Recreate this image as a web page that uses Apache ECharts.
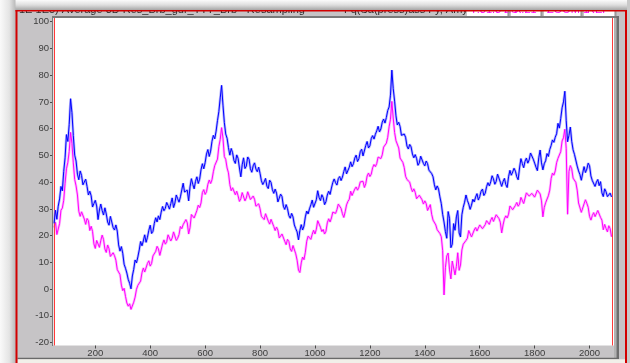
<!DOCTYPE html>
<html>
<head>
<meta charset="utf-8">
<script src="https://cdn.jsdelivr.net/npm/echarts@6/dist/echarts.min.js"></script>
<style>
  html, body { margin: 0; padding: 0; background: #ffffff; }
  #chart { width: 630px; height: 363px; }
</style>
</head>
<body>
<div id="chart"></div>
<script>
// Two traces sampled every 5 units starting at x = 50
const sampleStart = 50;
const sampleStep = 5;

const blueValues = [
  24.6, 29.5, 26.1, 31.0, 33.7, 38.4, 36.7, 44.0, 49.1, 57.8, 55.2, 61.5, 71.2, 66.0, 57.4, 50.1, 47.9, 43.0, 40.9, 44.2,
  42.5, 39.0, 38.5, 41.1, 38.4, 35.2, 36.6, 34.9, 30.7, 32.0, 33.2, 31.1, 26.0, 29.6, 31.8, 29.4, 27.7, 30.4, 28.1, 25.1,
  23.9, 27.2, 26.6, 23.0, 22.1, 24.0, 21.7, 16.5, 14.2, 15.9, 13.4, 9.3, 7.8, 6.0, 3.6, 2.2, 0.1, 4.9, 7.4, 10.9,
  9.8, 12.0, 14.6, 17.8, 16.2, 18.0, 20.3, 17.5, 19.4, 22.0, 23.9, 20.8, 21.6, 24.6, 26.7, 25.1, 27.4, 26.0, 28.8, 30.9,
  29.3, 30.2, 32.4, 31.3, 29.9, 32.0, 34.1, 30.5, 32.2, 35.2, 33.8, 32.5, 34.5, 37.1, 39.6, 36.3, 35.7, 37.0, 33.0, 38.2,
  41.3, 39.2, 37.5, 40.3, 42.0, 39.5, 41.1, 44.6, 46.9, 45.0, 47.3, 50.5, 52.2, 49.6, 51.6, 55.3, 57.5, 56.2, 59.1, 63.0,
  66.4, 71.5, 76.2, 68.8, 62.3, 58.0, 56.4, 52.9, 50.1, 52.6, 51.0, 48.1, 47.0, 50.2, 48.9, 45.3, 42.0, 46.5, 49.1, 45.1,
  46.0, 49.4, 48.6, 45.0, 43.7, 46.1, 47.2, 44.9, 43.9, 45.6, 43.3, 40.5, 39.1, 40.1, 41.4, 38.5, 37.6, 40.7, 39.9, 37.2,
  35.8, 37.4, 35.9, 32.6, 33.2, 35.5, 34.6, 31.0, 29.8, 31.6, 30.1, 27.5, 26.5, 28.3, 27.0, 24.0, 22.6, 21.4, 18.4, 21.9,
  24.1, 22.1, 23.6, 27.0, 29.2, 28.1, 30.0, 31.5, 33.3, 30.6, 29.9, 33.4, 36.8, 34.3, 33.1, 35.3, 34.2, 31.6, 32.7, 35.2,
  36.6, 35.4, 37.8, 39.9, 41.2, 39.8, 38.9, 41.3, 42.1, 40.6, 41.9, 44.0, 45.7, 43.1, 42.5, 45.6, 47.6, 45.8, 46.9, 49.0,
  50.1, 47.7, 48.8, 51.4, 52.3, 49.8, 50.4, 53.7, 55.2, 52.8, 53.6, 56.3, 57.4, 56.1, 57.9, 59.2, 60.9, 58.8, 59.9, 62.4,
  63.6, 62.1, 64.2, 66.8, 68.1, 72.5, 81.9, 75.0, 70.3, 64.8, 61.4, 62.4, 60.8, 57.5, 56.9, 58.0, 56.8, 53.5, 52.4, 54.1,
  53.2, 50.5, 49.1, 50.3, 48.9, 46.3, 47.2, 49.7, 49.0, 47.0, 46.1, 47.9, 46.9, 44.5, 43.9, 43.2, 42.0, 39.0, 37.1, 38.6,
  37.4, 34.5, 32.0, 28.0, 25.1, 21.5, 19.0, 29.0, 26.5, 15.5, 16.8, 24.5, 22.0, 27.0, 29.4, 21.0, 19.5, 27.8, 30.6, 32.5,
  35.2, 33.2, 31.8, 29.8, 31.4, 33.6, 32.6, 34.4, 35.7, 33.3, 34.6, 36.6, 37.4, 35.0, 35.9, 38.3, 39.8, 38.6, 40.1, 42.4,
  41.2, 39.2, 40.3, 43.0, 42.6, 40.0, 38.4, 40.2, 41.4, 39.1, 38.0, 42.0, 44.4, 42.6, 43.8, 45.2, 44.1, 42.0, 40.9, 45.3,
  48.8, 47.0, 45.4, 47.8, 49.0, 47.1, 48.3, 50.9, 50.2, 48.6, 47.1, 45.6, 44.3, 49.1, 52.0, 47.2, 44.6, 46.9, 48.0, 50.7,
  49.6, 52.2, 53.7, 55.8, 54.9, 56.8, 58.1, 62.0, 60.2, 63.8, 67.8, 70.0, 74.0, 63.0, 55.1, 57.5, 60.6, 55.3, 52.1, 50.4,
  49.8, 46.0, 44.2, 42.8, 40.7, 43.4, 45.8, 43.6, 44.9, 47.1, 46.1, 42.3, 40.6, 39.9, 38.4, 40.0, 41.0, 38.7, 40.2, 36.0,
  34.6, 37.5, 36.4, 34.6, 33.9, 35.9, 34.5
];

const pinkValues = [
  23.1, 25.0, 20.4, 19.8, 24.5, 29.5, 30.3, 33.2, 39.6, 45.0, 47.4, 51.5, 58.6, 54.5, 47.2, 41.0, 38.6, 35.2, 29.1, 27.2,
  28.9, 29.6, 26.2, 24.2, 26.4, 25.6, 21.9, 23.5, 21.6, 16.9, 15.2, 18.2, 17.5, 15.6, 18.1, 20.2, 18.6, 15.0, 13.7, 16.5,
  15.1, 12.2, 11.6, 13.6, 12.5, 10.8, 7.3, 8.0, 5.4, 1.5, -0.6, 0.3, -2.7, -5.2, -6.4, -5.5, -7.6, -8.0, -4.9, -3.0,
  -0.1, 1.4, 1.1, 3.0, 6.1, 7.9, 6.4, 7.0, 9.6, 10.6, 8.6, 9.6, 12.4, 12.0, 14.1, 16.0, 15.0, 12.6, 13.1, 16.9,
  18.4, 16.8, 17.7, 20.3, 19.9, 18.0, 19.1, 21.4, 21.0, 18.2, 19.0, 20.4, 23.4, 22.6, 24.1, 23.5, 26.0, 24.8, 20.6, 23.0,
  27.9, 28.6, 26.6, 26.9, 29.4, 31.4, 30.5, 32.2, 36.1, 37.2, 35.4, 36.4, 39.2, 40.8, 39.5, 40.9, 43.9, 46.2, 45.6, 48.6,
  53.3, 56.0, 60.4, 56.5, 49.6, 48.5, 45.3, 43.5, 39.1, 36.8, 37.9, 37.6, 35.3, 36.6, 34.9, 32.8, 33.8, 36.1, 35.9, 33.0,
  34.1, 36.4, 35.8, 33.5, 32.8, 34.8, 33.6, 31.0, 30.7, 31.9, 30.1, 27.2, 26.6, 26.0, 28.2, 27.8, 25.4, 24.3, 26.1, 25.9,
  23.4, 21.9, 23.2, 22.0, 19.1, 18.4, 20.6, 20.0, 17.9, 16.6, 18.6, 17.8, 15.0, 14.1, 16.3, 15.6, 13.2, 10.8, 7.1, 6.2,
  9.8, 12.0, 11.0, 13.8, 17.9, 19.8, 19.3, 18.6, 20.5, 22.0, 20.6, 22.4, 25.6, 25.2, 23.1, 21.5, 22.3, 20.6, 21.6, 24.8,
  26.3, 25.1, 26.6, 28.8, 29.5, 28.3, 29.7, 31.8, 31.5, 30.2, 28.2, 26.8, 28.9, 31.5, 32.8, 33.6, 36.6, 35.0, 35.5, 37.4,
  38.2, 37.0, 38.1, 40.1, 40.8, 40.3, 38.0, 39.4, 42.3, 43.4, 42.1, 43.0, 45.4, 46.6, 45.8, 47.0, 49.4, 49.9, 48.8, 50.2,
  53.1, 53.0, 54.6, 56.8, 60.7, 63.5, 70.2, 64.0, 58.6, 55.5, 54.8, 52.8, 49.0, 49.2, 47.4, 45.5, 42.2, 41.0, 40.6, 40.0,
  37.9, 36.4, 37.5, 36.2, 33.8, 33.4, 35.1, 35.0, 33.4, 31.8, 33.0, 32.0, 29.4, 29.6, 31.6, 28.0, 25.8, 25.5, 24.0, 22.2,
  21.5, 20.8, 19.6, 14.5, -2.2, 8.0, 12.4, 13.5, 7.2, 3.8, 10.5, 11.0, 5.3, 8.5, 13.6, 7.0, 9.0, 14.6, 16.8, 16.2,
  18.2, 19.0, 21.9, 21.6, 19.5, 20.0, 22.1, 23.0, 21.7, 22.0, 24.0, 24.6, 22.6, 22.0, 24.1, 25.6, 25.4, 24.2, 25.8, 26.8,
  25.3, 26.0, 27.8, 28.2, 26.4, 25.0, 21.0, 24.0, 26.3, 27.4, 26.6, 28.0, 31.1, 31.2, 29.7, 29.5, 31.3, 32.4, 31.0, 31.8,
  34.3, 34.5, 32.0, 32.6, 36.0, 36.6, 34.8, 34.2, 35.8, 36.4, 34.4, 35.0, 37.0, 37.6, 35.6, 33.0, 27.0, 30.5, 32.3, 32.0,
  34.9, 37.0, 41.3, 43.4, 42.6, 44.2, 47.3, 48.9, 49.5, 51.4, 55.4, 56.6, 59.8, 52.5, 28.0, 44.0, 46.2, 45.0, 41.5, 41.9,
  39.9, 37.0, 32.2, 31.5, 28.7, 28.8, 31.9, 33.4, 32.1, 30.6, 27.2, 25.8, 27.5, 28.6, 27.1, 27.0, 29.4, 28.8, 26.8, 25.8,
  22.2, 24.2, 22.7, 21.4, 23.7, 22.6, 19.6
];

const xTicks = [200, 400, 600, 800, 1000, 1200, 1400, 1600, 1800, 2000];
const yTicks = [-20, -10, 0, 10, 20, 30, 40, 50, 60, 70, 80, 90, 100];
const cursorPositions = [50, 2083];

const titleLeft = '1E 1E5) Average 3D Res_Brb_gdr_TTT_Brb - Resampling';
const titleRight = 'Fq(Sa(press)ass Fy, Amy)';
const statusFields = ['Y:31.3 ZS', 'X:21', 'ZOOM 1', 'REP'];

function toPairs(values) {
  return values.map((v, i) => [sampleStart + i * sampleStep, v]);
}

const chart = echarts.init(document.getElementById('chart'), null, { renderer: 'canvas' });

const panelGray = '#c6c4c6';
const darkEdge = '#7a7a7a';
const frameRed = '#d20000';
const labelFont = 'Liberation Sans';

// status fields in the title row
const statusGraphics = [];
const statusX = [467, 511, 544, 584];
const statusW = [40, 29, 36, 30];
statusFields.forEach((t, i) => {
  statusGraphics.push({
    type: 'rect', z: 40,
    shape: { x: statusX[i], y: 9, width: statusW[i], height: 7 },
    style: { fill: '#ffffff' }
  });
  statusGraphics.push({
    type: 'text', z: 41,
    style: {
      x: statusX[i] + 3, y: 10, text: t, fill: '#ff00ff',
      font: '11px "Liberation Sans"', verticalAlign: 'middle', align: 'left'
    }
  });
  statusGraphics.push({
    type: 'rect', z: 41,
    shape: { x: statusX[i] + statusW[i] + 1, y: 10, width: 1.5, height: 6 },
    style: { fill: '#9a9a9a' }
  });
});

// each trace: a soft halo underneath a crisp core line
function trace(name, values, core, halo, z) {
  return [
    {
      name: name + '-halo', type: 'line', data: toPairs(values),
      showSymbol: false, symbol: 'none', z: z, silent: true,
      lineStyle: { color: halo, width: 2.6 }
    },
    {
      name: name, type: 'line', data: toPairs(values),
      showSymbol: false, symbol: 'none', z: z + 1,
      lineStyle: { color: core, width: 1 }
    }
  ];
}

const series = [
  ...trace('pink', pinkValues, '#ff00ff', 'rgba(255,120,255,0.5)', 3),
  ...trace('blue', blueValues, '#0000ff', 'rgba(110,110,255,0.5)', 5)
];
series[3].markLine = {
  silent: true, symbol: 'none', animation: false,
  label: { show: false },
  lineStyle: { color: '#ff3a3a', width: 1, type: 'solid' },
  data: cursorPositions.map(v => ({ xAxis: v }))
};

chart.setOption({
  animation: false,
  backgroundColor: panelGray,
  grid: {
    left: 53, top: 18, width: 561, height: 327.5,
    show: true, backgroundColor: '#ffffff', borderWidth: 0
  },
  xAxis: {
    type: 'value', min: 46, max: 2089,
    axisLine: { show: false, onZero: false },
    splitLine: { show: false },
    axisTick: {
      show: true, customValues: xTicks, length: 3, inside: false,
      lineStyle: { color: '#4a4a4a', width: 1 }
    },
    axisLabel: {
      customValues: xTicks, color: '#3c3c3c', fontSize: 9.5,
      fontFamily: labelFont, margin: 3,
      formatter: v => String(v)
    }
  },
  yAxis: {
    type: 'value', min: -21.1, max: 101.4,
    axisLine: { show: false, onZero: false },
    splitLine: { show: false },
    axisTick: {
      show: true, customValues: yTicks, length: 3, inside: false,
      lineStyle: { color: '#4a4a4a', width: 1 }
    },
    axisLabel: {
      customValues: yTicks, color: '#3c3c3c', fontSize: 9.5,
      fontFamily: labelFont, margin: 4,
      formatter: v => String(v)
    }
  },
  series: series,
  graphic: [
    // title row text, its upper part hidden under the frame edge
    {
      type: 'text', z: 40,
      style: {
        x: 19, y: 10, text: titleLeft, fill: '#2a2a2a',
        font: '11px "Liberation Sans"', verticalAlign: 'middle', align: 'left'
      }
    },
    {
      type: 'text', z: 40,
      style: {
        x: 344, y: 10, text: titleRight, fill: '#2a2a2a',
        font: '11px "Liberation Sans"', verticalAlign: 'middle', align: 'left'
      }
    },
    ...statusGraphics,
    // plot frame
    { type: 'rect', z: 60, shape: { x: 52, y: 16, width: 567, height: 2 }, style: { fill: darkEdge } },
    { type: 'rect', z: 60, shape: { x: 52, y: 16, width: 1.2, height: 330 }, style: { fill: darkEdge } },
    { type: 'rect', z: 60, shape: { x: 614, y: 18, width: 2.5, height: 340 }, style: { fill: '#b2b2b2' } },
    { type: 'rect', z: 60, shape: { x: 616.5, y: 16, width: 2.5, height: 342 }, style: { fill: '#6e6e6e' } },
    { type: 'rect', z: 60, shape: { x: 17.5, y: 357.8, width: 601.5, height: 1.5 }, style: { fill: '#6a6a6a' } },
    { type: 'rect', z: 60, shape: { x: 17.5, y: 359.3, width: 607.5, height: 4 }, style: { fill: '#f1efe9' } },
    // surroundings of the window
    {
      type: 'rect', z: 90, shape: { x: 0, y: 0, width: 630, height: 10 },
      style: {
        fill: { type: 'linear', x: 0, y: 0, x2: 0, y2: 1,
          colorStops: [{ offset: 0, color: '#fbfbfb' }, { offset: 0.5, color: '#dedede' }, { offset: 1, color: '#a6a6a6' }] }
      }
    },
    {
      type: 'rect', z: 91, shape: { x: 0, y: 0, width: 15.5, height: 363 },
      style: {
        fill: { type: 'linear', x: 0, y: 0, x2: 1, y2: 0,
          colorStops: [{ offset: 0, color: '#fafafa' }, { offset: 0.6, color: '#e4e4e4' }, { offset: 1, color: '#b9b9b9' }] }
      }
    },
    { type: 'rect', z: 91, shape: { x: 627, y: 0, width: 3, height: 363 }, style: { fill: '#c9c9c9' } },
    // red window border
    { type: 'rect', z: 95, shape: { x: 15.5, y: 10, width: 611.5, height: 1.6 }, style: { fill: frameRed } },
    { type: 'rect', z: 95, shape: { x: 15.5, y: 10, width: 2, height: 353 }, style: { fill: frameRed } },
    { type: 'rect', z: 95, shape: { x: 625, y: 10, width: 2, height: 353 }, style: { fill: frameRed } }
  ]
});
</script>
</body>
</html>
